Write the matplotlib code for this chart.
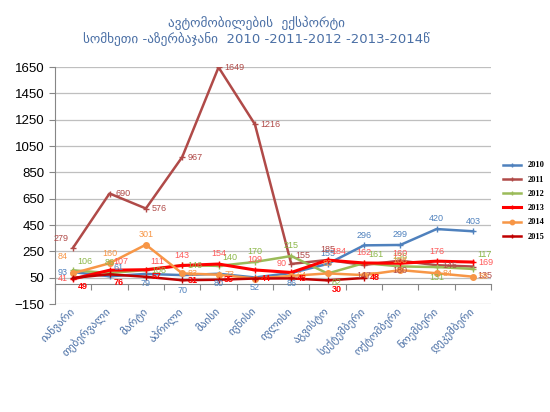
import numpy as np
import matplotlib
matplotlib.use('Agg')
import matplotlib.pyplot as plt

months = ['იანვარი', 'თებერვალი', 'მარტი', 'აპრილი', 'მაისი', 'ივნისი',
          'ივლისი', 'აგვისტო', 'სექტემბერი', 'ოქტომბერი', 'ნოემბერი', 'დეკემბერი']
y2010 = [93, 61, 79, 70, 80, 52, 86, 155, 296, 299, 420, 403]
y2011 = [279, 690, 576, 967, 1649, 1216, 155, 185, 147, 180, 145, 135]
y2012 = [106, 86, 108, 146, 140, 170, 215, 82, 161, 136, 131, 117]
y2013 = [41, 107, 111, 143, 154, 109, 90, 184, 162, 160, 176, 169]
y2014 = [84, 160, 301, 83, 73, 44, 64, 83, 70, 108, 84, 58]
y2015 = [49, 76, 57, 31, 35, 44, 45, 30, 48]

# label placement per point
offs = {'a': ((0, 4), 'center', 'bottom'), 'b': ((0, -4), 'center', 'top'),
        'r': ((4, 0), 'left', 'center'), 'l': ((-4, 0), 'right', 'center'),
        'ar': ((3, 3), 'left', 'bottom'), 'al': ((-3, 3), 'right', 'bottom'),
        'br': ((3, -3), 'left', 'top'), 'uul': ((-4, 9), 'right', 'bottom'),
        'uur': ((3, 7), 'left', 'bottom'), 'bb': ((0, -8), 'center', 'top')}

series = [
    ('2010', y2010, '#4F81BD', '#4F81BD', '+', 1.8,
     ['l', 'ar', 'b', 'bb', 'b', 'b', 'b', 'a', 'a', 'a', 'a', 'a']),
    ('2011', y2011, '#B04A48', '#B04A48', '+', 1.8,
     ['al', 'r', 'r', 'r', 'r', 'r', 'ar', 'a', 'b', 'b', 'r', 'br']),
    ('2012', y2012, '#9BBB59', '#8DB84A', '+', 1.8,
     ['ar', 'a', 'r', 'r', 'ar', 'a', 'a', 'br', 'ar', 'a', 'b', 'uur']),
    ('2013', y2013, '#FF0000', '#FF5A5A', '+', 2.2,
     ['l', 'ar', 'ar', 'a', 'a', 'a', 'al', 'ar', 'a', 'a', 'a', 'r']),
    ('2014', y2014, '#F79646', '#F79646', 'o', 1.8,
     ['uul', 'a', 'a', 'r', 'r', 'r', 'r', 'a', 'r', 'a', 'r', 'r']),
    ('2015', y2015, '#C00000', '#FF0000', '+', 1.8,
     ['br', 'br', 'r', 'r', 'r', 'r', 'r', 'br', 'r']),
]

fig = plt.figure(figsize=(5.5, 4.12), dpi=100)
ax = fig.add_axes([0.1, 0.262, 0.793, 0.575])

for name, vals, col, lcol, mk, lw, pos in series:
    x = np.arange(len(vals))
    ax.plot(x, vals, color=col, lw=lw, marker=mk,
            markersize=4, markeredgewidth=1, label=name)
    for xi, v, p in zip(x, vals, pos):
        (dx, dy), ha, va = offs[p]
        ax.annotate(str(v), (xi, v), xytext=(dx, dy), textcoords='offset points',
                    ha=ha, va=va, fontsize=6.5, color=lcol,
                    family='Liberation Sans',
                    fontweight='bold' if name == '2015' else 'normal')

ax.set_xlim(-0.5, 11.5)
ax.set_ylim(-150, 1650)
ax.set_yticks(np.arange(-150, 1651, 200))
ax.yaxis.grid(True, color='#BFBFBF', lw=0.9)
ax.set_axisbelow(True)
for s in ['top', 'right', 'bottom']:
    ax.spines[s].set_visible(False)
ax.spines['left'].set_color('#868686')
ax.tick_params(axis='y', length=4, color='#868686', labelsize=9.5)
for t in ax.get_yticklabels():
    t.set_family('Liberation Sans')

ax.set_xticks(np.arange(12))
ax.set_xticklabels(months, rotation=45, ha='right', va='center',
                   rotation_mode='anchor', fontsize=8, color='#4A6FA5')
ax.tick_params(axis='x', length=0, pad=4)

# category axis crossing at zero
sec = ax.secondary_xaxis(150 / 1800)
sec.set_xticks(np.arange(-0.5, 12, 1))
sec.tick_params(labelbottom=False, length=4, color='#868686')
sec.spines['bottom'].set_color('#868686')

fig.legend(loc='center left', bbox_to_anchor=(0.9, 0.512), frameon=False,
           prop={'family': 'Liberation Serif', 'weight': 'bold', 'size': 6},
           handlelength=2.2, labelspacing=0.75, markerscale=0.8)

fig.text(0.467, 0.944, 'ავტომობილების  ექსპორტი', ha='center', va='center',
         fontsize=9.5, color='#4A6FA5')
fig.text(0.467, 0.905, 'სომხეთი -აზერბაჯანი  2010 -2011-2012 -2013-2014წ',
         ha='center', va='center', fontsize=9.5, color='#4A6FA5')

fig.savefig('out.png', dpi=100)
